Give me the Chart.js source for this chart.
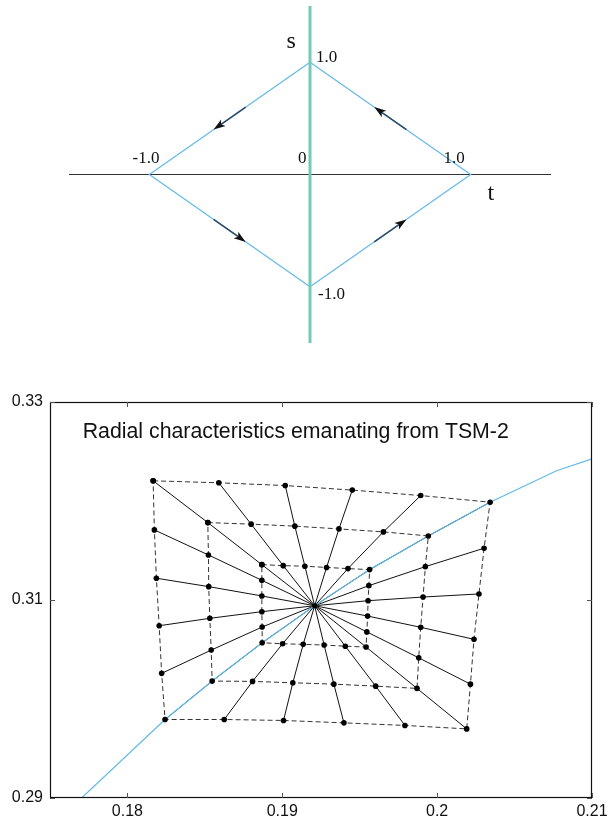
<!DOCTYPE html>
<html>
<head>
<meta charset="utf-8">
<script src="https://cdn.jsdelivr.net/npm/chart.js@4.4.0/dist/chart.umd.min.js"></script>
<style>
  html, body { margin: 0; padding: 0; background: #fff; }
  canvas { position: absolute; left: 0; }
  #top { top: 0; }
  #bottom { top: 360px; }
</style>
</head>
<body>
<canvas id="top" width="616" height="360"></canvas>
<canvas id="bottom" width="616" height="461"></canvas>
<script>
// ---- top panel: the (t, s) diamond ----
const axisRange = [-1.5, 1.5];
const diamondT = [0, -1, 0, 1, 0];
const diamondS = [1, 0, -1, 0, 1];

// arrows along each edge (from -> to)
const arrowFromT = [-0.4, 0.6, -0.6, 0.4];
const arrowFromS = [0.6, 0.4, -0.4, -0.6];
const arrowToT = [-0.6, 0.4, -0.4, 0.6];
const arrowToS = [0.4, 0.6, -0.6, -0.4];

const topLabelText = ["s", "1.0", "-1.0", "0", "1.0", "t", "-1.0"];
const topLabelT = [-0.146, 0.038, -1.104, -0.075, 0.831, 1.104, 0.05];
const topLabelS = [1.128, 1.0, 0.098, 0.098, 0.098, -0.223, -1.107];

// ---- bottom panel: radial characteristics ----
const titleText = "Radial characteristics emanating from TSM-2";
const xTicks = [0.18, 0.19, 0.2, 0.21];
const yTicks = [0.29, 0.31, 0.33];

const hubX = 0.19209;
const hubY = 0.30942;

// rings, clockwise from top-left corner
const outerX = [0.18166, 0.18590, 0.19019, 0.19452, 0.19894, 0.20342, 0.20303, 0.20270, 0.20238, 0.20215,
                0.20191, 0.19792, 0.19398, 0.19008, 0.18625, 0.18243, 0.18221, 0.18205, 0.18187, 0.18174];
const outerY = [0.32204, 0.32184, 0.32156, 0.32110, 0.32055, 0.31988, 0.31523, 0.31061, 0.30603, 0.30150,
                0.29698, 0.29733, 0.29759, 0.29783, 0.29793, 0.29793, 0.30259, 0.30740, 0.31220, 0.31708];
const midX = [0.18519, 0.18799, 0.19081, 0.19366, 0.19653, 0.19943, 0.19924, 0.19909, 0.19894, 0.19881,
              0.19870, 0.19603, 0.19333, 0.19068, 0.18808, 0.18547, 0.18541, 0.18532, 0.18525, 0.18523];
const midY = [0.31782, 0.31766, 0.31746, 0.31718, 0.31688, 0.31647, 0.31337, 0.31030, 0.30724, 0.30416,
              0.30107, 0.30130, 0.30150, 0.30164, 0.30178, 0.30181, 0.30494, 0.30815, 0.31135, 0.31455];
const innerX = [0.18868, 0.19006, 0.19146, 0.19286, 0.19424, 0.19564, 0.19559, 0.19554, 0.19551, 0.19546,
                0.19541, 0.19407, 0.19270, 0.19135, 0.19002, 0.18870, 0.18870, 0.18868, 0.18868, 0.18868];
const innerY = [0.31357, 0.31347, 0.31341, 0.31329, 0.31317, 0.31307, 0.31145, 0.30993, 0.30838, 0.30678,
                0.30525, 0.30533, 0.30545, 0.30552, 0.30558, 0.30568, 0.30727, 0.30882, 0.31041, 0.31199];

const curveX = [0.17704, 0.18243, 0.18547, 0.18870, 0.19209, 0.19564, 0.19943, 0.20342, 0.20771, 0.21];
const curveY = [0.29000, 0.29793, 0.30181, 0.30568, 0.30942, 0.31307, 0.31647, 0.31988, 0.32305, 0.32426];

const blue = "#62b9e8";

function pts(xs, ys) {
  return xs.map((x, i) => ({ x: x, y: ys[i] }));
}

const topPlugin = {
  id: "topDecor",
  afterDatasetsDraw(chart) {
    const { ctx, scales: { x, y } } = chart;
    ctx.save();
    arrowFromT.forEach((t, i) => {
      const x0 = x.getPixelForValue(t), y0 = y.getPixelForValue(arrowFromS[i]);
      const x1 = x.getPixelForValue(arrowToT[i]), y1 = y.getPixelForValue(arrowToS[i]);
      const ang = Math.atan2(y1 - y0, x1 - x0);
      ctx.strokeStyle = "#2d4b66";
      ctx.lineWidth = 1.6;
      ctx.beginPath();
      ctx.moveTo(x0, y0);
      ctx.lineTo(x1 - 6 * Math.cos(ang), y1 - 6 * Math.sin(ang));
      ctx.stroke();
      // arrow head
      ctx.translate(x1, y1);
      ctx.rotate(ang);
      ctx.fillStyle = "#111";
      ctx.beginPath();
      ctx.moveTo(0, 0);
      ctx.lineTo(-12, -4);
      ctx.lineTo(-9, 0);
      ctx.lineTo(-12, 4);
      ctx.closePath();
      ctx.fill();
      ctx.setTransform(1, 0, 0, 1, 0, 0);
    });
    ctx.fillStyle = "#111";
    ctx.textBaseline = "alphabetic";
    ctx.textAlign = "left";
    topLabelText.forEach((txt, i) => {
      const big = txt === "s" || txt === "t";
      ctx.font = (big ? "24px" : "17px") + ' "Liberation Serif", "Times New Roman", serif';
      ctx.fillText(txt, x.getPixelForValue(topLabelT[i]), y.getPixelForValue(topLabelS[i]));
    });
    ctx.restore();
  }
};

new Chart(document.getElementById("top"), {
  type: "scatter",
  data: {
    datasets: [
      {
        data: [{ x: 0, y: axisRange[0] }, { x: 0, y: axisRange[1] }],
        showLine: true, borderColor: "#76c9b8", borderWidth: 3, pointRadius: 0, order: 1
      },
      {
        data: pts(diamondT, diamondS),
        showLine: true, borderColor: blue, borderWidth: 1.2, pointRadius: 0, order: 2
      },
      {
        data: [{ x: axisRange[0], y: 0 }, { x: axisRange[1], y: 0 }],
        showLine: true, borderColor: "#333", borderWidth: 1, pointRadius: 0, order: 3
      }
    ]
  },
  options: {
    responsive: false,
    animation: false,
    events: [],
    layout: { padding: { left: 69, right: 65, top: 6, bottom: 17 } },
    plugins: { legend: { display: false }, tooltip: { enabled: false } },
    scales: {
      x: { type: "linear", display: false, min: axisRange[0], max: axisRange[1] },
      y: { type: "linear", display: false, min: axisRange[0], max: axisRange[1] }
    }
  },
  plugins: [topPlugin]
});

const framePlugin = {
  id: "frame",
  afterDraw(chart) {
    const { ctx, chartArea: a, scales: { x, y } } = chart;
    ctx.save();
    ctx.strokeStyle = "#111";
    ctx.lineWidth = 1.2;
    ctx.strokeRect(a.left + 0.5, a.top + 0.5, a.right - a.left - 1, a.bottom - a.top - 1);
    ctx.strokeStyle = "#555";
    ctx.lineWidth = 1;
    ctx.beginPath();
    xTicks.forEach((v) => {
      const px = Math.round(x.getPixelForValue(v)) + 0.5;
      ctx.moveTo(px, a.top);
      ctx.lineTo(px, a.top + 5);
      ctx.moveTo(px, a.bottom);
      ctx.lineTo(px, a.bottom - 5);
    });
    yTicks.forEach((v) => {
      const py = Math.round(y.getPixelForValue(v)) + 0.5;
      ctx.moveTo(a.left, py);
      ctx.lineTo(a.left + 5, py);
      ctx.moveTo(a.right, py);
      ctx.lineTo(a.right - 5, py);
    });
    ctx.stroke();
    ctx.fillStyle = "#111";
    ctx.font = '21.3px "Liberation Sans", Arial, sans-serif';
    ctx.textBaseline = "alphabetic";
    ctx.fillText(titleText, a.left + 32.7, a.top + 36);
    ctx.restore();
  }
};

const rayDatasets = outerX.map((ox, i) => ({
  data: [
    { x: hubX, y: hubY },
    { x: innerX[i], y: innerY[i] },
    { x: midX[i], y: midY[i] },
    { x: ox, y: outerY[i] }
  ],
  showLine: true, borderColor: "#111", borderWidth: 1, pointRadius: 0, order: 3
}));

function ringDataset(xs, ys) {
  const data = pts(xs, ys);
  data.push(data[0]);
  return {
    data: data,
    showLine: true, borderColor: "#333", borderWidth: 1, borderDash: [5, 3],
    pointRadius: 2.8, pointBackgroundColor: "#000", pointBorderWidth: 0, order: 1
  };
}

const tickFont = { family: '"Liberation Sans", Arial, sans-serif', size: 16 };

new Chart(document.getElementById("bottom"), {
  type: "scatter",
  data: {
    datasets: [
      ringDataset(outerX, outerY),
      ringDataset(midX, midY),
      ringDataset(innerX, innerY),
      {
        data: pts(curveX, curveY),
        showLine: true, borderColor: blue, borderWidth: 1.2, pointRadius: 0, order: 2
      },
      {
        data: [{ x: hubX, y: hubY }],
        pointRadius: 2.6, pointBackgroundColor: "#000", pointBorderWidth: 0, order: 1
      },
      ...rayDatasets
    ]
  },
  options: {
    responsive: false,
    animation: false,
    events: [],
    layout: { padding: { left: 0, right: 24, top: 42, bottom: 0 } },
    plugins: { legend: { display: false }, tooltip: { enabled: false } },
    scales: {
      x: {
        type: "linear", min: 0.175, max: 0.21,
        afterBuildTicks: (s) => { s.ticks = xTicks.map((v) => ({ value: v })); },
        afterFit: (s) => { s.height = 23; },
        grid: { display: false, drawTicks: false },
        border: { display: false },
        ticks: {
          padding: 4, color: "#111", font: tickFont, autoSkip: false, maxRotation: 0,
          callback: (v) => String(Number(v.toFixed(3)))
        }
      },
      y: {
        type: "linear", min: 0.29, max: 0.33,
        afterBuildTicks: (s) => { s.ticks = yTicks.map((v) => ({ value: v })); },
        afterFit: (s) => { s.width = 50; },
        grid: { display: false, drawTicks: false },
        border: { display: false },
        ticks: {
          padding: 7, color: "#111", font: tickFont, autoSkip: false,
          callback: (v) => String(Number(v.toFixed(3)))
        }
      }
    }
  },
  plugins: [framePlugin]
});
</script>
</body>
</html>
